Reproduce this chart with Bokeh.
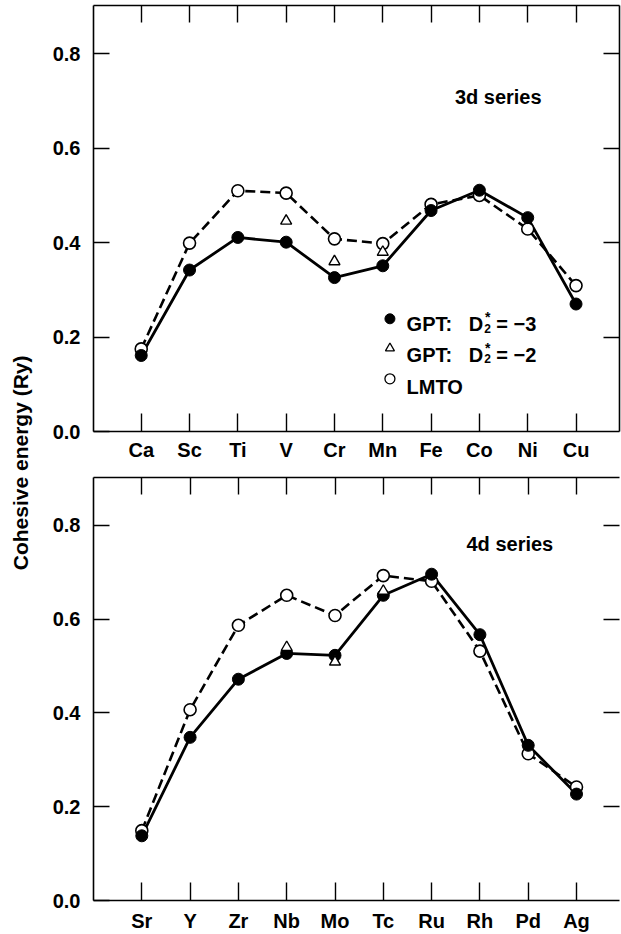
import math
from bokeh.plotting import figure
from bokeh.layouts import row, column
from bokeh.models import (FixedTicker, LinearAxis, Range1d, NumeralTickFormatter,
                          CustomJSTickFormatter)
from bokeh.core.properties import value
from bokeh.embed import file_html
from bokeh.resources import INLINE

FONT = "Liberation Sans"

# ---------------- data ----------------
elements_3d = ["Ca", "Sc", "Ti", "V", "Cr", "Mn", "Fe", "Co", "Ni", "Cu"]
gpt3_3d = [0.161, 0.342, 0.411, 0.401, 0.326, 0.351, 0.468, 0.511, 0.453, 0.270]
lmto_3d = [0.175, 0.399, 0.510, 0.505, 0.408, 0.398, 0.481, 0.500, 0.429, 0.309]
gpt2_3d_elements = ["V", "Cr", "Mn"]
gpt2_3d = [0.446, 0.360, 0.380]

elements_4d = ["Sr", "Y", "Zr", "Nb", "Mo", "Tc", "Ru", "Rh", "Pd", "Ag"]
gpt3_4d = [0.138, 0.348, 0.472, 0.527, 0.523, 0.651, 0.696, 0.567, 0.331, 0.227]
lmto_4d = [0.149, 0.407, 0.587, 0.651, 0.608, 0.693, 0.681, 0.532, 0.313, 0.242]
gpt2_4d_elements = ["Nb", "Mo", "Tc"]
gpt2_4d = [0.540, 0.509, 0.660]

y_ticks = [0.0, 0.2, 0.4, 0.6, 0.8]
y_label = "Cohesive energy (Ry)"
series_3d = "3d series"
series_4d = "4d series"
legend_labels = ["GPT:", "GPT:", "LMTO"]
legend_values = ["= \u22123", "= \u22122"]

AX_W = 1.6


def tick_only_axis(ticks, tick_in, line_color):
    return LinearAxis(ticker=FixedTicker(ticks=ticks), major_tick_in=tick_in,
                      major_tick_out=0, minor_tick_line_color=None,
                      formatter=CustomJSTickFormatter(code="return ''"),
                      major_label_text_font_size="1px", major_label_standoff=0,
                      axis_line_width=AX_W, major_tick_line_width=1.4,
                      axis_line_color=line_color)


def make_panel(elements, gpt3, lmto, tri_el, tri_vals, x0, x1, y1,
               width, height, mbl, mbr, mbt, mbb, right_line, xstand):
    xs = [i + 1 for i in range(len(elements))]
    p = figure(width=width, height=height, x_range=Range1d(x0, x1),
               y_range=Range1d(0.0, y1), output_backend="svg",
               toolbar_location=None, min_border_left=mbl,
               min_border_right=mbr, min_border_top=mbt,
               min_border_bottom=mbb)
    p.outline_line_color = None
    p.grid.visible = False
    p.background_fill_color = "white"
    p.border_fill_color = "white"

    xa = p.xaxis[0]
    xa.ticker = FixedTicker(ticks=xs)
    xa.major_label_overrides = {x: e for x, e in zip(xs, elements)}
    xa.major_tick_in = 18
    xa.major_tick_out = 0
    xa.minor_tick_line_color = None
    xa.axis_line_width = AX_W
    xa.major_tick_line_width = 1.4
    xa.major_label_text_font = FONT
    xa.major_label_text_font_style = "bold"
    xa.major_label_text_font_size = "20px"
    xa.major_label_text_color = "black"
    xa.major_label_standoff = xstand

    ya = p.yaxis[0]
    ya.ticker = FixedTicker(ticks=y_ticks)
    ya.formatter = NumeralTickFormatter(format="0.0")
    ya.major_tick_in = 16
    ya.major_tick_out = 0
    ya.minor_tick_line_color = None
    ya.axis_line_width = AX_W
    ya.major_tick_line_width = 1.4
    ya.major_label_text_font = FONT
    ya.major_label_text_font_style = "bold"
    ya.major_label_text_font_size = "20px"
    ya.major_label_text_color = "black"
    ya.major_label_standoff = 13

    p.add_layout(tick_only_axis(xs, 17, "black"), "above")
    p.add_layout(tick_only_axis(y_ticks[1:], 16,
                                "black" if right_line else None), "right")

    # lines
    p.line(xs, lmto, line_color="black", line_width=2.6, line_dash="10 5")
    p.line(xs, gpt3, line_color="black", line_width=2.8)
    # markers
    p.scatter(xs, lmto, marker="circle", size=12, fill_color="white",
              line_color="black", line_width=1.6)
    p.scatter(xs, gpt3, marker="circle", size=12, fill_color="black",
              line_color="black", line_width=1)
    tx = [elements.index(e) + 1 for e in tri_el]
    p.scatter(tx, tri_vals, marker="triangle", size=11, fill_color="white",
              line_color="black", line_width=1.4)
    return p


top = make_panel(elements_3d, gpt3_3d, lmto_3d, gpt2_3d_elements, gpt2_3d,
                 0.012, 10.90, 0.9023, 581, 466, 51, 2, 5, 35, True, 7)
bot = make_panel(elements_4d, gpt3_4d, lmto_4d, gpt2_4d_elements, gpt2_4d,
                 0.0, 10.89, 0.9023, 581, 468, 53, 0, 11, 31, False, 9)

txt = dict(text_font=value(FONT), text_font_style="bold", text_color="black")

top.text(x=[8.39], y=[0.708], text=[series_3d], text_font_size="20px",
         text_align="center", text_baseline="alphabetic", **txt)
bot.text(x=[8.62], y=[0.761], text=[series_4d], text_font_size="20px",
         text_align="center", text_baseline="alphabetic", **txt)

# legend (top panel)
lg_x_marker = 6.148
row_base = [0.2267, 0.161, 0.0953]
row_mark = [0.2387, 0.1764, 0.1116]
top.scatter([lg_x_marker], [row_mark[0]], marker="circle", size=10,
            fill_color="black", line_color="black")
top.scatter([lg_x_marker], [row_mark[1]], marker="triangle", size=9,
            fill_color="white", line_color="black", line_width=1.3)
top.scatter([lg_x_marker], [row_mark[2]], marker="circle", size=10,
            fill_color="white", line_color="black", line_width=1.3)
top.text(x=[6.493] * 3, y=row_base, text=legend_labels, text_font_size="20px",
         text_align="left", text_baseline="alphabetic", **txt)
top.text(x=[7.777] * 2, y=row_base[:2], text=["D", "D"], text_font_size="20px",
         text_align="left", text_baseline="alphabetic", **txt)
top.text(x=[8.17] * 2, y=[0.2415, 0.177], text=["*", "*"], text_font_size="14px",
         text_align="center", text_baseline="middle", **txt)
top.text(x=[8.17] * 2, y=[0.2185, 0.154], text=["2", "2"], text_font_size="12px",
         text_align="center", text_baseline="middle", **txt)
top.text(x=[8.349] * 2, y=row_base[:2], text=legend_values, text_font_size="20px",
         text_align="left", text_baseline="alphabetic", **txt)

# y-axis title strip
lab = figure(width=40, height=934, x_range=Range1d(0, 1), y_range=Range1d(0, 1),
             output_backend="svg", toolbar_location=None, min_border=0)
lab.axis.visible = False
lab.grid.visible = False
lab.outline_line_color = None
lab.text(x=[0.5], y=[0.505], text=[y_label], angle=math.pi / 2,
         text_font_size="21px", text_align="center", text_baseline="middle", **txt)

layout = row(lab, column(top, bot, spacing=0), spacing=0)
open("out.html", "w").write(file_html(layout, INLINE))
